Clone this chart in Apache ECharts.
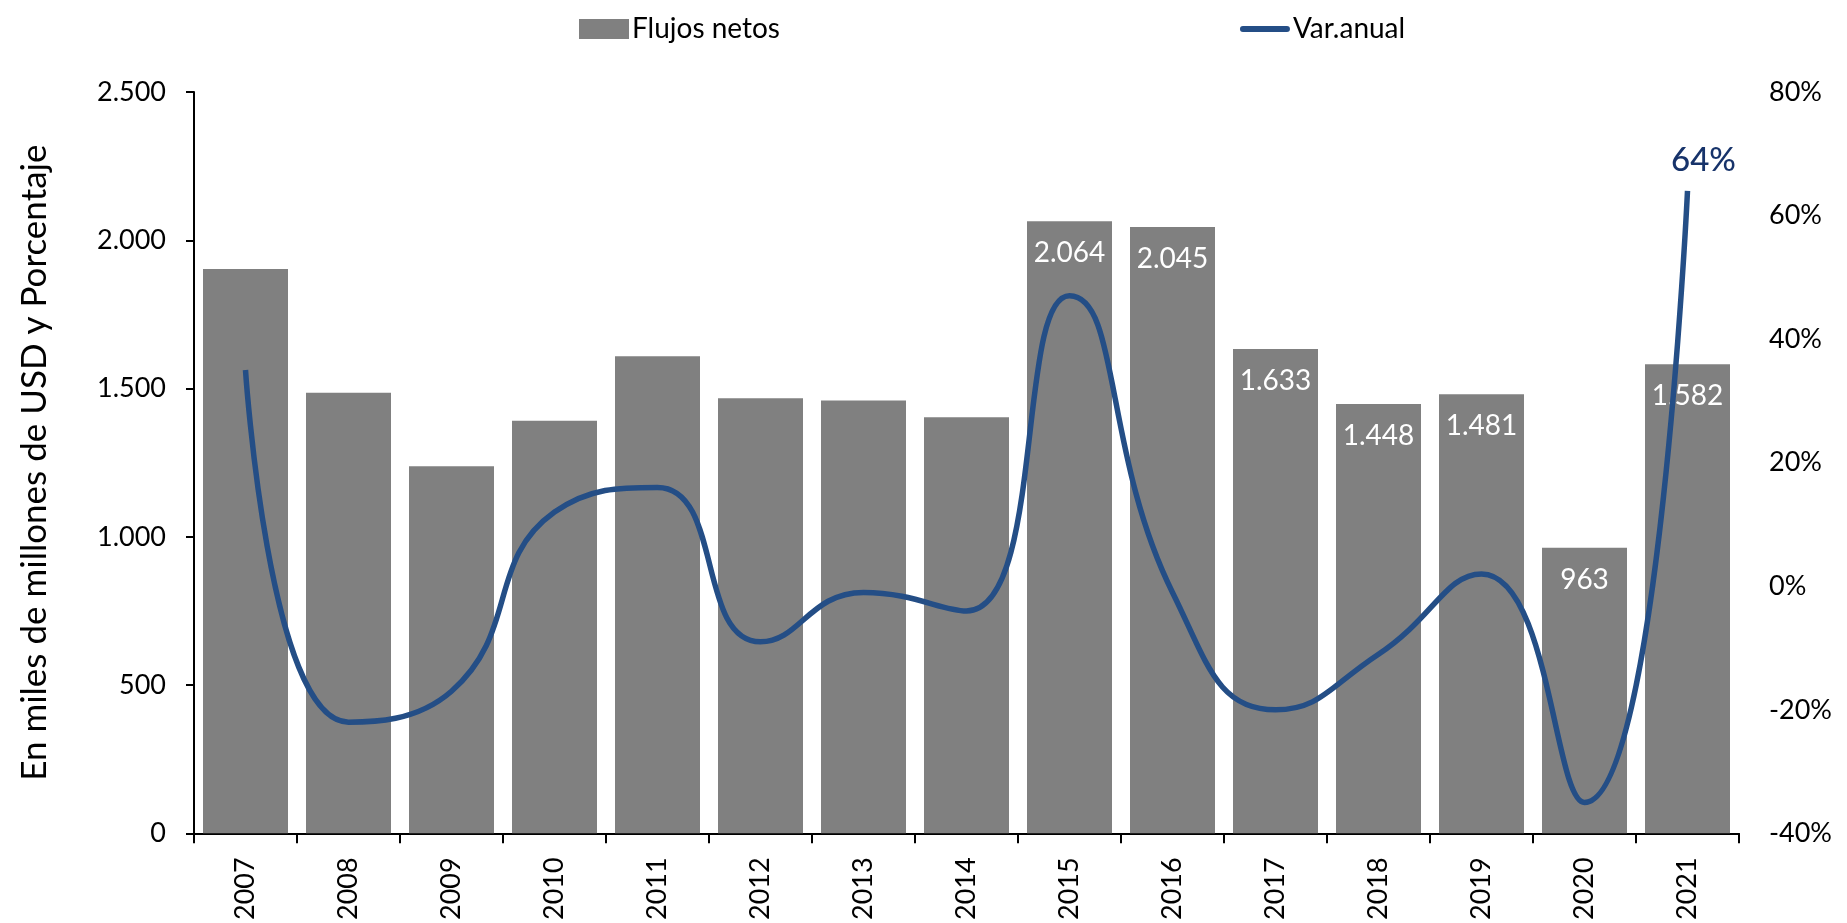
<!DOCTYPE html>
<html>
<head>
<meta charset="utf-8">
<script src="https://cdn.jsdelivr.net/npm/echarts@6/dist/echarts.min.js"></script>
<style>
  html, body { margin: 0; padding: 0; background: #fff; }
  #chart { width: 1847px; height: 923px; }
</style>
</head>
<body>
<div id="chart"></div>
<script>
// datos
var years = ["2007", "2008", "2009", "2010", "2011", "2012", "2013", "2014",
             "2015", "2016", "2017", "2018", "2019", "2020", "2021"];
var flujosNetos = [1903, 1486, 1238, 1391, 1609, 1467, 1460, 1403,
                   2064, 2045, 1633, 1448, 1481, 963, 1582];
var varAnual = [35, -22, -17, 12, 16, -9, -1, -4, 47, -1, -20, -11, 2, -35, 64];
var leftTicks = [0, 500, 1000, 1500, 2000, 2500];
var rightTicks = [-40, -20, 0, 20, 40, 60, 80];

var FONT = "Lato, 'Open Sans', sans-serif";
var AZUL = "#244e86";

function miles(v) {
  // separador de miles con punto
  return String(v).replace(/\B(?=(\d{3})+(?!\d))/g, ".");
}

var barData = [];
for (var i = 0; i < flujosNetos.length; i++) {
  barData.push({
    value: flujosNetos[i],
    label: { show: i >= 8 } // solo 2015 en adelante llevan etiqueta
  });
}
var lineData = [];
for (var j = 0; j < varAnual.length; j++) {
  lineData.push({
    value: varAnual[j],
    label: { show: j === varAnual.length - 1 }
  });
}

var myChart = echarts.init(document.getElementById("chart"));
myChart.setOption({
  animation: false,
  textStyle: { fontFamily: FONT },
  legend: {
    left: 574,
    top: 10,
    itemWidth: 50,
    itemHeight: 20,
    itemGap: 460,
    textStyle: { fontSize: 28, color: "#000", fontFamily: FONT, padding: [0, 0, 0, -2] },
    data: [
      { name: "Flujos netos", icon: "rect" },
      {
        name: "Var.anual",
        icon: "path://M3,0 L47,0 A3,3 0 0 1 47,6 L3,6 A3,3 0 0 1 3,0 Z",
        itemStyle: { color: AZUL }
      }
    ]
  },
  grid: {
    left: 194,
    right: 108,
    top: 92,
    bottom: 85
  },
  xAxis: [
    {
      type: "category",
      data: years,
      boundaryGap: true,
      axisLine: { lineStyle: { color: "#000", width: 2 } },
      axisTick: { show: true, length: 10, lineStyle: { color: "#000", width: 2 } },
      axisLabel: {
        rotate: 90,
        interval: 0,
        margin: 24,
        fontSize: 27,
        color: "#000",
        fontFamily: FONT
      },
      splitLine: { show: false }
    }
  ],
  yAxis: [
    {
      type: "value",
      min: leftTicks[0],
      max: leftTicks[leftTicks.length - 1],
      interval: 500,
      name: "En miles de millones de USD y Porcentaje",
      nameLocation: "middle",
      nameRotate: 90,
      nameGap: 142,
      nameTextStyle: { fontSize: 35, color: "#000", fontFamily: FONT },
      axisLine: { show: true, lineStyle: { color: "#000", width: 2 } },
      axisTick: { show: true, inside: false, length: 8, lineStyle: { color: "#000", width: 2 } },
      axisLabel: {
        margin: 28,
        fontSize: 27,
        color: "#000",
        fontFamily: FONT,
        formatter: function (v) { return miles(v); }
      },
      splitLine: { show: false }
    },
    {
      type: "value",
      min: rightTicks[0],
      max: rightTicks[rightTicks.length - 1],
      interval: 20,
      position: "right",
      axisLine: { show: false },
      axisTick: { show: false },
      axisLabel: {
        margin: 30,
        fontSize: 27,
        color: "#000",
        fontFamily: FONT,
        formatter: "{value}%"
      },
      splitLine: { show: false }
    }
  ],
  series: [
    {
      name: "Flujos netos",
      type: "bar",
      yAxisIndex: 0,
      barWidth: 85,
      itemStyle: { color: "#808080" },
      label: {
        position: "insideTop",
        distance: 18,
        color: "#fff",
        fontSize: 28,
        fontFamily: FONT,
        formatter: function (p) { return miles(p.value); }
      },
      data: barData
    },
    {
      name: "Var.anual",
      type: "line",
      yAxisIndex: 1,
      smooth: 0.5,
      symbol: "circle",
      symbolSize: 0,
      showSymbol: true,
      lineStyle: { color: AZUL, width: 5.5 },
      itemStyle: { color: AZUL },
      label: {
        position: "top",
        distance: 14,
        offset: [16, 0],
        color: "#17336a",
        fontSize: 33,
        fontWeight: 500,
        fontFamily: FONT,
        formatter: "{c}%"
      },
      z: 5,
      data: lineData
    }
  ]
});
</script>
</body>
</html>
